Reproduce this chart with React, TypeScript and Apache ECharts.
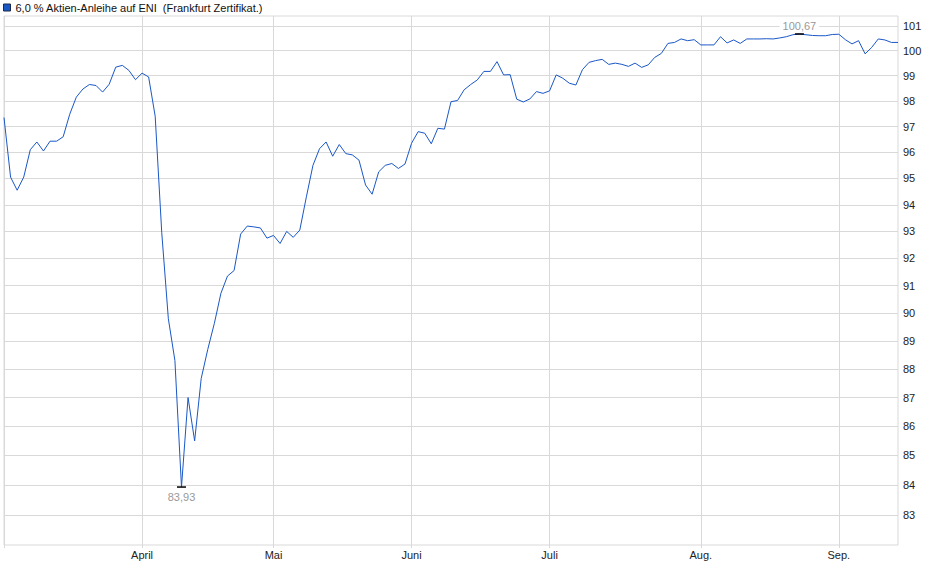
import { useEffect, useRef } from "react";
import * as echarts from "echarts";

const SERIES_NAME = "6,0 % Aktien-Anleihe auf ENI  (Frankfurt Zertifikat.)";

// trading calendar (Frankfurt), one point per trading day
const FIRST_DAY = "2025-03-03";
const LAST_DAY = "2025-09-12";
const HOLIDAYS = ["2025-04-18", "2025-04-21", "2025-05-01"];

const MONTH_LABELS: Record<string, string> = {
  "04": "April",
  "05": "Mai",
  "06": "Juni",
  "07": "Juli",
  "08": "Aug.",
  "09": "Sep.",
};

const Y_TICKS = [83, 84, 85, 86, 87, 88, 89, 90, 91, 92, 93, 94, 95, 96, 97, 98, 99, 100, 101];

const PRICES = [
  97.35, 95.05, 94.55, 95.05, 96.1, 96.4, 96.05, 96.43, 96.43, 96.6,
  97.48, 98.15, 98.47, 98.65, 98.61, 98.35, 98.66, 99.34, 99.41, 99.21,
  98.84, 99.1, 98.95, 97.4, 92.95, 89.8, 88.3, 83.93, 87.0, 85.5,
  87.67, 88.7, 89.63, 90.72, 91.35, 91.55, 92.9, 93.2, 93.17, 93.13,
  92.75, 92.85, 92.55, 93.0, 92.78, 93.05, 94.3, 95.5, 96.14, 96.4,
  95.85, 96.3, 95.95, 95.9, 95.7, 94.75, 94.4, 95.25, 95.5, 95.57,
  95.38, 95.55, 96.35, 96.8, 96.74, 96.33, 96.93, 96.9, 97.97, 98.02,
  98.44, 98.65, 98.83, 99.17, 99.17, 99.56, 99.03, 99.04, 98.07, 97.96,
  98.08, 98.37, 98.3, 98.4, 99.03, 98.9, 98.7, 98.63, 99.24, 99.53,
  99.6, 99.65, 99.45, 99.5, 99.45, 99.37, 99.5, 99.33, 99.43, 99.73,
  99.89, 100.29, 100.33, 100.47, 100.4, 100.44, 100.23, 100.23, 100.23, 100.56,
  100.31, 100.43, 100.29, 100.47, 100.47, 100.47, 100.48, 100.47, 100.51, 100.56,
  100.64, 100.67, 100.64, 100.61, 100.6, 100.6, 100.65, 100.66, 100.44, 100.27,
  100.4, 99.87, 100.13, 100.47, 100.43, 100.33, 100.33,
];

const LINE_COLOR = "#1a57c6";
const GRID_COLOR = "#d9d9d9";
const FONT = "Liberation Sans, Arial, sans-serif";

function tradingDays(from: string, to: string, skip: string[]) {
  const out: string[] = [];
  const d = new Date(from + "T00:00:00Z");
  const end = new Date(to + "T00:00:00Z");
  while (d <= end) {
    const iso = d.toISOString().slice(0, 10);
    const wd = d.getUTCDay();
    if (wd !== 0 && wd !== 6 && !skip.includes(iso)) out.push(iso);
    d.setUTCDate(d.getUTCDate() + 1);
  }
  return out;
}

const DAYS = tradingDays(FIRST_DAY, LAST_DAY, HOLIDAYS);

const isMonthStart = (i: number) =>
  i > 0 && DAYS[i].slice(5, 7) !== DAYS[i - 1].slice(5, 7);

const fmtPrice = (v: number) => v.toFixed(2).replace(".", ",");

export default function App() {
  const chartRef = useRef<HTMLDivElement>(null);

  useEffect(() => {
    document.body.style.margin = "0";
    if (!chartRef.current) return;
    const chart = echarts.init(chartRef.current, null, { renderer: "svg" });

    chart.setOption({
      animation: false,
      backgroundColor: "#fff",
      legend: {
        left: 3,
        top: 2,
        padding: 0,
        icon: "rect",
        itemWidth: 7,
        itemHeight: 7,
        selectedMode: false,
        textStyle: { fontSize: 11, color: "#111", fontFamily: FONT },
        data: [
          {
            name: SERIES_NAME,
            itemStyle: { color: LINE_COLOR, borderColor: "#1b2a4a", borderWidth: 1 },
          },
        ],
      },
      grid: {
        left: 4,
        right: 42,
        top: 16,
        bottom: 34,
        show: true,
        borderColor: GRID_COLOR,
        borderWidth: 1,
        backgroundColor: "transparent",
      },
      xAxis: {
        type: "category",
        data: DAYS,
        boundaryGap: false,
        axisLine: { show: false },
        axisTick: {
          show: true,
          length: 3,
          interval: (i: number) => i === 0 || isMonthStart(i),
          lineStyle: { color: GRID_COLOR },
        },
        axisLabel: {
          interval: (i: number) => isMonthStart(i),
          formatter: (v: string) => MONTH_LABELS[v.slice(5, 7)] ?? "",
          color: "#222",
          fontSize: 11,
          fontFamily: FONT,
          margin: 4,
        },
        splitLine: {
          show: true,
          interval: (i: number) => i === 0 || isMonthStart(i),
          lineStyle: { color: GRID_COLOR },
        },
      },
      yAxis: {
        type: "log",
        logBase: 10,
        position: "right",
        min: 82,
        max: 101.4,
        axisLine: { show: false },
        axisTick: { show: false, customValues: Y_TICKS },
        axisLabel: {
          customValues: Y_TICKS,
          formatter: (v: number) => String(Math.round(v)),
          color: "#222",
          fontSize: 11,
          fontFamily: FONT,
          margin: 5,
        },
        splitLine: { show: true, lineStyle: { color: GRID_COLOR } },
      },
      series: [
        {
          type: "line",
          name: SERIES_NAME,
          data: PRICES,
          symbol: "none",
          lineStyle: { color: LINE_COLOR, width: 1 },
          itemStyle: { color: LINE_COLOR },
          markPoint: {
            symbol: "rect",
            symbolSize: [9, 1.5],
            itemStyle: { color: "#000" },
            label: {
              show: true,
              color: "#999",
              fontSize: 11,
              fontFamily: FONT,
              backgroundColor: "#fff",
              padding: [0, 3],
              formatter: (p: { value: number }) => fmtPrice(p.value),
            },
            data: [
              { type: "min", label: { position: "bottom", distance: 4 } },
              { type: "max", label: { position: "top", distance: 2 } },
            ],
          },
        },
      ],
    });

    return () => chart.dispose();
  }, []);

  return <div ref={chartRef} style={{ width: 940, height: 579 }} />;
}
